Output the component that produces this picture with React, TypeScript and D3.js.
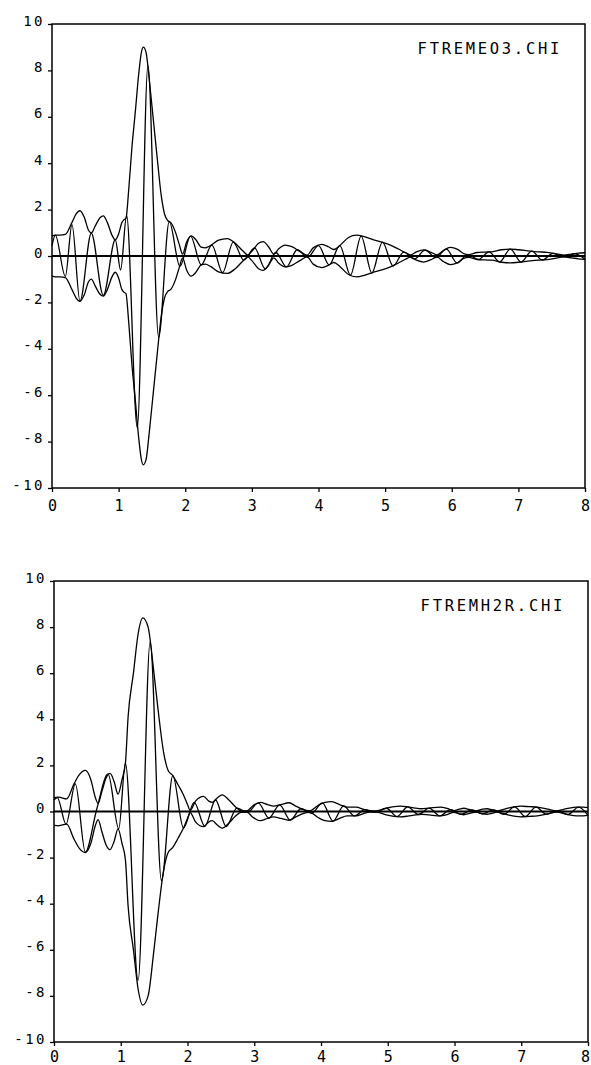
import React, { useEffect, useRef } from 'react';
import * as d3 from 'd3';

type Pt = [number, number];

// axis ticks
const xTicks = [0, 1, 2, 3, 4, 5, 6, 7, 8];
const yTicks = [-10, -8, -6, -4, -2, 0, 2, 4, 6, 8, 10];

// upper panel: |FT| envelope (drawn +/-) and real part (extrema)
const topLabel = 'FTREMEO3.CHI';
const topEnvelope: Pt[] = [
  [0, 0.86], [0.05, 0.9], [0.12, 0.9], [0.2, 0.93], [0.3, 1.45], [0.36, 1.8], [0.42, 1.95],
  [0.48, 1.7], [0.55, 1.1], [0.59, 1.0], [0.65, 1.3], [0.72, 1.65], [0.77, 1.73], [0.83, 1.45],
  [0.9, 0.9], [0.95, 0.7], [1.0, 0.95], [1.05, 1.45], [1.08, 1.56], [1.11, 1.62], [1.15, 2.8],
  [1.2, 4.7], [1.25, 6.2], [1.3, 7.8], [1.34, 8.75], [1.37, 9.0], [1.41, 8.8], [1.46, 7.6],
  [1.52, 5.9], [1.58, 4.2], [1.64, 2.6], [1.69, 1.8], [1.74, 1.52], [1.78, 1.45], [1.85, 1.05],
  [1.91, 0.5], [1.96, 0.08], [2.02, 0.6], [2.09, 0.87], [2.16, 0.7], [2.24, 0.38], [2.3, 0.35],
  [2.38, 0.45], [2.5, 0.68], [2.63, 0.75], [2.75, 0.55], [2.87, 0.2], [2.94, 0.04], [3.0, 0.2],
  [3.1, 0.55], [3.17, 0.62], [3.25, 0.4], [3.33, 0.08], [3.4, 0.3], [3.5, 0.47], [3.6, 0.4],
  [3.72, 0.2], [3.83, 0.04], [3.92, 0.35], [4.05, 0.5], [4.15, 0.4], [4.23, 0.28], [4.32, 0.45],
  [4.45, 0.8], [4.57, 0.9], [4.7, 0.82], [4.83, 0.7], [4.95, 0.6], [5.08, 0.47], [5.2, 0.3],
  [5.3, 0.15], [5.38, 0.05], [5.47, 0.18], [5.58, 0.26], [5.68, 0.17], [5.78, 0.05], [5.88, 0.25],
  [5.98, 0.37], [6.08, 0.3], [6.18, 0.1], [6.25, 0.06], [6.38, 0.15], [6.5, 0.17], [6.6, 0.18],
  [6.75, 0.27], [6.88, 0.3], [7.0, 0.27], [7.18, 0.21], [7.3, 0.18], [7.43, 0.16], [7.55, 0.1],
  [7.68, 0.04], [7.8, 0.08], [7.9, 0.12], [8.0, 0.14],
];
const topReal: Pt[] = [
  [0, 0.45], [0.05, 0.9], [0.2, -0.88], [0.3, 1.35], [0.42, -1.95], [0.59, 0.98], [0.77, -1.7],
  [0.95, 0.7], [1.03, -0.6], [1.12, 1.75], [1.28, -7.4], [1.44, 8.2], [1.6, -3.5], [1.76, 1.48],
  [1.92, -0.45], [2.08, 0.86], [2.24, -0.38], [2.4, 0.47], [2.56, -0.72], [2.72, 0.6], [2.88, -0.18],
  [3.04, 0.35], [3.2, -0.55], [3.36, 0.15], [3.52, -0.47], [3.68, 0.27], [3.84, -0.05], [4.0, 0.45],
  [4.16, -0.38], [4.32, 0.45], [4.48, -0.82], [4.64, 0.86], [4.8, -0.73], [4.96, 0.6], [5.12, -0.43],
  [5.28, 0.17], [5.44, -0.13], [5.6, 0.25], [5.76, -0.07], [5.92, 0.3], [6.08, -0.3], [6.24, 0.06],
  [6.4, -0.15], [6.56, 0.18], [6.72, -0.25], [6.88, 0.3], [7.04, -0.26], [7.2, 0.21], [7.36, -0.17],
  [7.52, 0.11], [7.68, -0.04], [7.84, 0.1], [8.0, -0.14],
];

// lower panel
const bottomLabel = 'FTREMH2R.CHI';
const bottomEnvelope: Pt[] = [
  [0, 0.6], [0.07, 0.62], [0.19, 0.55], [0.3, 1.2], [0.38, 1.6], [0.47, 1.78], [0.55, 1.4],
  [0.62, 0.6], [0.66, 0.35], [0.72, 0.9], [0.78, 1.45], [0.84, 1.65], [0.9, 1.3], [0.96, 0.75],
  [1.02, 1.4], [1.07, 2.1], [1.11, 4.1], [1.19, 6.0], [1.26, 7.7], [1.33, 8.4], [1.41, 8.0],
  [1.49, 6.2], [1.56, 4.4], [1.64, 2.6], [1.71, 1.78], [1.78, 1.56], [1.86, 1.15], [1.94, 0.72],
  [2.0, 0.3], [2.04, 0.05], [2.12, 0.45], [2.24, 0.66], [2.32, 0.45], [2.37, 0.4], [2.45, 0.6],
  [2.52, 0.72], [2.62, 0.5], [2.72, 0.2], [2.8, 0.04], [2.89, 0.03], [2.98, 0.25], [3.09, 0.4],
  [3.2, 0.3], [3.29, 0.23], [3.4, 0.3], [3.52, 0.38], [3.63, 0.22], [3.72, 0.1], [3.83, 0.03],
  [3.95, 0.25], [4.06, 0.4], [4.16, 0.43], [4.28, 0.3], [4.39, 0.19], [4.53, 0.19], [4.63, 0.1],
  [4.73, 0.03], [4.83, 0.03], [4.95, 0.12], [5.07, 0.2], [5.19, 0.23], [5.3, 0.2], [5.39, 0.16],
  [5.5, 0.12], [5.62, 0.15], [5.79, 0.19], [5.9, 0.12], [5.99, 0.04], [6.07, 0.1], [6.14, 0.14],
  [6.23, 0.08], [6.33, 0.03], [6.42, 0.1], [6.49, 0.12], [6.56, 0.08], [6.64, 0.03], [6.8, 0.15],
  [6.99, 0.23], [7.12, 0.21], [7.24, 0.19], [7.4, 0.1], [7.53, 0.03], [7.68, 0.12], [7.83, 0.19],
  [7.93, 0.19], [8.0, 0.17],
];
const bottomReal: Pt[] = [
  [0, 0.5], [0.05, 0.6], [0.18, -0.55], [0.32, 1.2], [0.47, -1.76], [0.64, 0.1], [0.81, 1.63],
  [0.97, -0.75], [1.07, 2.1], [1.26, -7.33], [1.44, 7.35], [1.61, -3.0], [1.78, 1.56], [1.94, -0.72],
  [2.1, 0.4], [2.26, -0.64], [2.42, 0.5], [2.58, -0.65], [2.74, 0.15], [2.9, -0.04], [3.06, 0.37],
  [3.22, -0.28], [3.38, 0.29], [3.54, -0.37], [3.7, 0.12], [3.86, -0.08], [4.02, 0.37], [4.18, -0.42],
  [4.34, 0.24], [4.5, -0.19], [4.66, 0.08], [4.82, -0.03], [4.98, 0.14], [5.14, -0.22], [5.3, 0.2],
  [5.46, -0.13], [5.62, 0.15], [5.78, -0.19], [5.94, 0.08], [6.1, -0.12], [6.26, 0.07], [6.42, -0.1],
  [6.58, 0.07], [6.74, -0.12], [6.9, 0.2], [7.06, -0.22], [7.22, 0.19], [7.38, -0.12], [7.54, 0.03],
  [7.7, -0.13], [7.86, 0.19], [8.0, -0.17],
];

const W = 591;
const H = 1065;
const FONT = '"DejaVu Sans Mono", monospace';

const panels = [
  { label: topLabel, env: topEnvelope, re: topReal, left: 52, right: 585, top: 24, bottom: 488, xLab: 23 },
  { label: bottomLabel, env: bottomEnvelope, re: bottomReal, left: 54, right: 588, top: 581, bottom: 1042, xLab: 20 },
];

const App = () => {
  const svgRef = useRef<SVGSVGElement>(null);

  useEffect(() => {
    const svg = d3.select(svgRef.current);
    svg.selectAll('*').remove();

    panels.forEach((p) => {
      const x = d3.scaleLinear().domain([0, 8]).range([p.left, p.right]);
      const y = d3.scaleLinear().domain([-10, 10]).range([p.bottom, p.top]);
      const g = svg.append('g');

      const line = d3.line<Pt>()
        .x((d) => x(d[0]))
        .y((d) => y(d[1]))
        .curve(d3.curveMonotoneX);

      // zero line
      g.append('line')
        .attr('x1', x(0)).attr('x2', x(8))
        .attr('y1', y(0)).attr('y2', y(0))
        .attr('stroke', '#000').attr('stroke-width', 2);

      const curves = [p.env, p.env.map(([r, v]) => [r, -v] as Pt), p.re];
      g.selectAll('path.curve')
        .data(curves)
        .join('path')
        .attr('class', 'curve')
        .attr('d', (d) => line(d))
        .attr('fill', 'none')
        .attr('stroke', '#000')
        .attr('stroke-width', 1.3)
        .attr('stroke-linejoin', 'round');

      // frame
      g.append('rect')
        .attr('x', p.left).attr('y', p.top)
        .attr('width', p.right - p.left).attr('height', p.bottom - p.top)
        .attr('fill', 'none').attr('stroke', '#000').attr('stroke-width', 1.5);

      // y axis
      g.append('g')
        .attr('transform', `translate(${p.left},0)`)
        .call(d3.axisLeft(y).tickValues(yTicks).tickSize(4).tickSizeOuter(0).tickFormat((d) => String(d)))
        .call((a) => a.select('.domain').remove())
        .call((a) => a.selectAll('.tick line').attr('stroke-width', 1.3))
        .call((a) => a.selectAll('.tick text')
          .attr('x', -7).attr('dy', 1)
          .style('font-family', FONT).style('font-size', '14px')
          .style('letter-spacing', '2.5px').attr('fill', '#000'));

      // x axis (last label nudged so it stays inside the page)
      g.append('g')
        .attr('transform', `translate(0,${p.bottom})`)
        .call(d3.axisBottom(x).tickValues(xTicks).tickSize(4).tickSizeOuter(0).tickFormat((d) => String(d)))
        .call((a) => a.select('.domain').remove())
        .call((a) => a.selectAll('.tick line').attr('stroke-width', 1.3))
        .call((a) => a.selectAll<SVGTextElement, number>('.tick text')
          .attr('y', p.xLab).attr('dy', 0)
          .attr('x', (d) => (d === 8 ? Math.min(0, W - 6 - x(8)) : 0))
          .style('font-family', FONT).style('font-size', '15px').attr('fill', '#000'));

      // file label
      g.append('text')
        .attr('x', p.right - 23).attr('y', p.top + 30)
        .attr('text-anchor', 'end')
        .style('font-family', FONT).style('font-size', '15.5px')
        .style('letter-spacing', '2.7px')
        .text(p.label);
    });
  }, []);

  return (
    <svg ref={svgRef} width={W} height={H}
      style={{ position: 'absolute', left: 0, top: 0, background: '#fff' }} />
  );
};

export default App;
